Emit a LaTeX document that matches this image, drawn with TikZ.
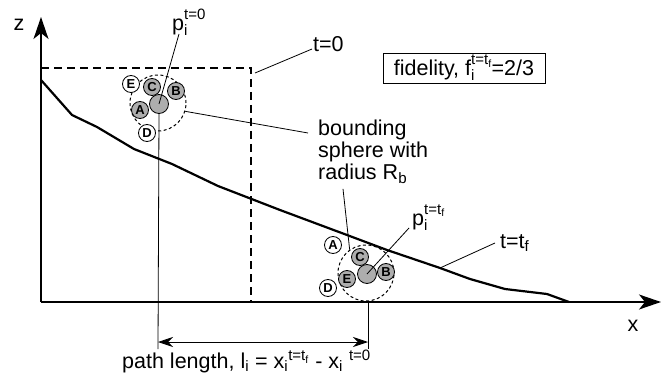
\documentclass[tikz,border=0pt]{standalone}
\usepackage{fontspec}
\setmainfont{Liberation Sans}
\usetikzlibrary{arrows.meta,positioning,calc}
\newcommand{\stk}[2]{\rlap{\raisebox{-5pt}{\fontsize{15}{15}\selectfont #1}}\raisebox{11pt}{\fontsize{15}{15}\selectfont #2}}

\begin{document}
\begin{tikzpicture}[x=1pt, y=-1pt,
  font=\fontsize{21.5}{21.5}\selectfont,
  >={Stealth[length=15pt,width=10pt]},
  axis/.style={line width=1.5pt, -{Stealth[length=22pt,width=15pt,inset=6pt]}},
  front/.style={line width=2pt, dash pattern=on 8pt off 5pt},
  prof/.style={line width=2.2pt, line join=round},
  lead/.style={line width=0.8pt},
  bsph/.style={circle, draw, line width=1pt, dash pattern=on 3pt off 2.5pt, minimum size=56pt, inner sep=0pt},
  core/.style={circle, draw, line width=0.8pt, fill=black!32, minimum size=19pt, inner sep=0pt},
  atom/.style={circle, draw, line width=0.8pt, minimum size=17pt, inner sep=0pt,
               font=\fontsize{13}{13}\selectfont\bfseries},
  lbl/.style={inner sep=0pt},
]
\useasboundingbox (0,0) rectangle (661,385);
% axes
\coordinate (O) at (41,302);
\coordinate (ztip) at (41,17);
\coordinate (xtip) at (661,302);
\draw[axis] (O) -- (ztip);
\draw[axis] (O) -- (xtip);
\node[lbl] (zlab) at (19,25) {z};
\node[lbl] (xlab) at (633,326) {x};
% front at t=0 and profile at t=tf
\draw[front] (41,68) -- (251,68) -- (251,302);
\draw[prof] (41,80) -- (72,115) -- (97,127) -- (134,149) -- (172,164) -- (218,186) -- (280,210)
  -- (347,235) -- (387,250) -- (440,268) -- (470,279) -- (505,289) -- (547,294) -- (569,302);
% particle at t=0
\node[bsph] (bs0) at (158,103) {};
\node[core] (core0) at (159,104) {};
\foreach \n/\px/\py/\fc in {E/131/84/white, C/152/87/black!32, B/176/91/black!32, A/140/110/black!32, D/147/133/white}
  \node[atom, fill=\fc] (l\n) at (\px,\py) {\n};
% particle at t=tf
\node[bsph] (bs1) at (366,273) {};
\node[core] (core1) at (367,274) {};
\foreach \n/\px/\py/\fc in {C/360/257/black!32, B/386/272/black!32, E/347/279/black!32, A/333/245/white, D/328/288/white}
  \node[atom, fill=\fc] (r\n) at (\px,\py) {\n};
% labels
\node[lbl, anchor=base west] (plab0) at (172,31) {p\stk{i}{t=0}};
\draw[lead] ($(plab0.base west)+(7,3)$) -- (core0.center);
\node[lbl, anchor=base west] (plab1) at (412,225) {p\stk{i}{t=t\textsubscript{f}}};
\draw[lead] ($(plab1.base west)+(-3,3)$) -- (core1.center);
\node[lbl, anchor=base west] (t0lab) at (313,52) {t=0};
\coordinate (t0pt) at (255,73);
\draw[lead] ($(t0lab.base west)+(-1,-3)$) -- (t0pt);
\node[lbl, anchor=base west] (tflab) at (500,248) {t=t\textsubscript{f}};
\coordinate (tfpt) at (440,268);
\draw[lead] ($(tflab.base west)+(-5,-5)$) -- (tfpt);
\node[draw, line width=0.8pt, minimum width=162pt, minimum height=30pt, inner sep=0pt] (fid) at (464,68)
  {fidelity, f\stk{i}{t=t\textsubscript{f}}=2/3};
\node[lbl, anchor=north west, align=left, font=\fontsize{21.5}{22}\selectfont] (bslab) at (318,120)
  {bounding\\sphere with\\radius R\textsubscript{b}};
\draw[lead] (bs0.-17) -- ($(bslab.north west)+(-10,13)$);
\draw[lead] ($(bslab.south west)+(25,5)$) -- (bs1.125);
% path length
\coordinate (v0) at (158,349);
\coordinate (v1) at (368,349);
\draw[lead] (core0.south) -- (v0);
\draw[lead] (368,302) -- (v1);
\draw[lead, <->] ($(v0)+(0,-7)$) -- ($(v1)+(0,-7)$);
\node[lbl, anchor=base west] (plen) at (122,368)
  {path length, l\textsubscript{i} = x\textsubscript{i}\textsuperscript{t=t\textsubscript{f}} - x\textsubscript{i} \textsuperscript{t=0}};
\end{tikzpicture}
\end{document}
